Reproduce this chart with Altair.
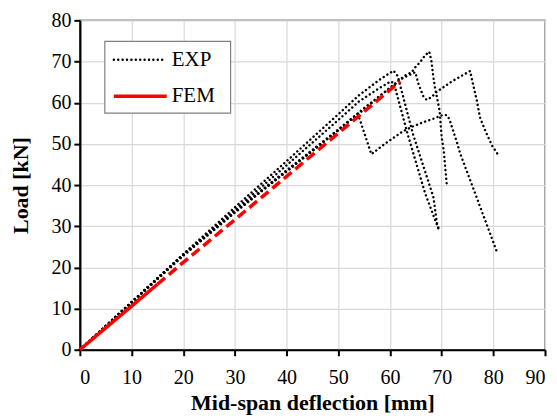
import altair as alt
import pandas as pd

# ---- data ----
a_x = [0, 10, 20, 30, 40, 50, 54, 58, 60.7, 61.5, 64.4, 68.4, 69.1, 69.4]
a_y = [0, 11.6, 23.2, 34.6, 45.8, 57.2, 61.8, 65.6, 67.8, 66.5, 52.6, 37.1, 30.7, 29.5]

b_x = [0, 10, 20, 30, 40, 50, 54, 58, 60.2, 60.8, 63.3, 66.8, 69.4]
b_y = [0, 11.6, 23.1, 34.0, 44.8, 55.8, 60.3, 63.6, 65.2, 64.6, 52.9, 38.0, 29.3]

c_x = [0, 10, 20, 30, 40, 50, 55, 60, 62.5, 64.9, 65.5, 66.5, 67.1, 68.1, 69.0, 72.0, 75.5, 76.2, 76.8, 77.4, 78.4, 79.7, 81.0]
c_y = [0, 11.5, 23.0, 33.6, 43.6, 53.5, 58.7, 63.6, 66.0, 67.4, 64.6, 61.4, 60.7, 61.4, 62.6, 65.2, 67.7, 63.8, 60.6, 56.5, 53.3, 49.7, 47.2]

d_x = [0, 10, 20, 30, 40, 50, 55, 60, 62.9, 64.2, 64.9, 65.8, 66.8, 67.6, 68.0, 68.4, 68.7, 69.2, 69.6, 70.0, 70.4, 71.0]
d_y = [0, 11.4, 22.8, 33.3, 43.3, 53.3, 58.4, 63.6, 66.6, 67.4, 68.6, 69.8, 71.5, 72.4, 70.3, 66.2, 63.8, 60.6, 58.1, 51.7, 48.4, 40.0]

e_x = [0, 10, 20, 30, 40, 50, 53.8, 54.2, 56.4, 59.1, 62.3, 64.2, 66.5, 68.4, 70.0, 71.0, 71.5, 72.9, 73.6, 77.1, 80.8]
e_y = [0, 11.5, 23.1, 33.5, 43.4, 53.3, 57.2, 55.8, 47.5, 50.1, 52.9, 54.1, 55.3, 56.1, 56.9, 57.0, 56.0, 50.6, 47.6, 35.9, 23.4]

fem_solid_x = [0, 5, 10, 15]
fem_solid_y = [0, 5.3, 10.6, 15.9]
fem_dash_x = [15, 20, 30, 40, 50, 62]
fem_dash_y = [15.9, 21.2, 31.6, 42.1, 52.6, 65.2]

x_ticks = list(range(0, 100, 10))
y_ticks = list(range(0, 90, 10))

# ---- tables ----
rows = []
for name, xs, ys in [("A", a_x, a_y), ("B", b_x, b_y), ("C", c_x, c_y),
                     ("D", d_x, d_y), ("E", e_x, e_y)]:
    for i, (xv, yv) in enumerate(zip(xs, ys)):
        rows.append({"spec": name, "i": i, "x": xv, "y": yv})
exp_df = pd.DataFrame(rows)
fem_s = pd.DataFrame({"x": fem_solid_x, "y": fem_solid_y, "i": range(len(fem_solid_x))})
fem_d = pd.DataFrame({"x": fem_dash_x, "y": fem_dash_y, "i": range(len(fem_dash_x))})

FONT = "Liberation Serif"
W, H = 466, 330

xsc = alt.Scale(domain=[0, 90], nice=False)
ysc = alt.Scale(domain=[0, 80], nice=False)
AX = dict(format="d", labelFont=FONT, labelFontSize=20, labelColor="black",
          titleFont=FONT, titleFontSize=22, titleFontWeight="bold", titleColor="black",
          grid=True, gridColor="#d9d9d9", gridWidth=1.2,
          domainColor="black", domainWidth=2.2,
          tickColor="black", tickWidth=2, tickSize=6)
xax = alt.Axis(values=x_ticks, title="Mid-span deflection [mm]", labelPadding=12, titlePadding=5, **AX)
yax = alt.Axis(values=y_ticks, title="Load [kN]", labelPadding=3, titlePadding=18, **AX)

DOT = dict(strokeDash=[0.1, 4.3], strokeCap="round", strokeWidth=2.4, color="black")

exp = alt.Chart(exp_df).mark_line(**DOT).encode(
    x=alt.X("x:Q", scale=xsc, axis=xax),
    y=alt.Y("y:Q", scale=ysc, axis=yax),
    detail="spec:N",
    order="i:Q",
)
fem1 = alt.Chart(fem_s).mark_line(color="#ff0000", strokeWidth=3.5).encode(
    x=alt.X("x:Q", scale=xsc), y=alt.Y("y:Q", scale=ysc), order="i:Q")
fem2 = alt.Chart(fem_d).mark_line(color="#ff0000", strokeWidth=3.5, strokeDash=[10, 5]).encode(
    x=alt.X("x:Q", scale=xsc), y=alt.Y("y:Q", scale=ysc), order="i:Q")

one = pd.DataFrame({"k": [0]})
box = alt.Chart(one).mark_rect(fill="white", stroke="#808080", strokeWidth=1.2).encode(
    x=alt.value(25), x2=alt.value(151), y=alt.value(21), y2=alt.value(93))
leg_exp = alt.Chart(one).mark_rule(**DOT).encode(
    x=alt.value(34), x2=alt.value(85), y=alt.value(39.5))
leg_fem = alt.Chart(one).mark_rule(color="#ff0000", strokeWidth=3.5).encode(
    x=alt.value(34), x2=alt.value(87), y=alt.value(76))
txt_exp = alt.Chart(one).mark_text(text="EXP", font=FONT, fontSize=21, align="left",
                                   baseline="middle", color="black").encode(
    x=alt.value(92), y=alt.value(40))
txt_fem = alt.Chart(one).mark_text(text="FEM", font=FONT, fontSize=21, align="left",
                                   baseline="middle", color="black").encode(
    x=alt.value(92), y=alt.value(76))

chart = alt.layer(exp, fem1, fem2, box, leg_exp, leg_fem, txt_exp, txt_fem).properties(
    width=W, height=H,
    autosize=alt.AutoSizeParams(type="none"),
    padding={"left": 72, "top": 12, "right": 4, "bottom": 66},
).configure(
    font=FONT
).configure_view(
    stroke="#808080", strokeWidth=1.5
)

chart.save("out.html", embed_options={"renderer": "svg", "actions": False})
